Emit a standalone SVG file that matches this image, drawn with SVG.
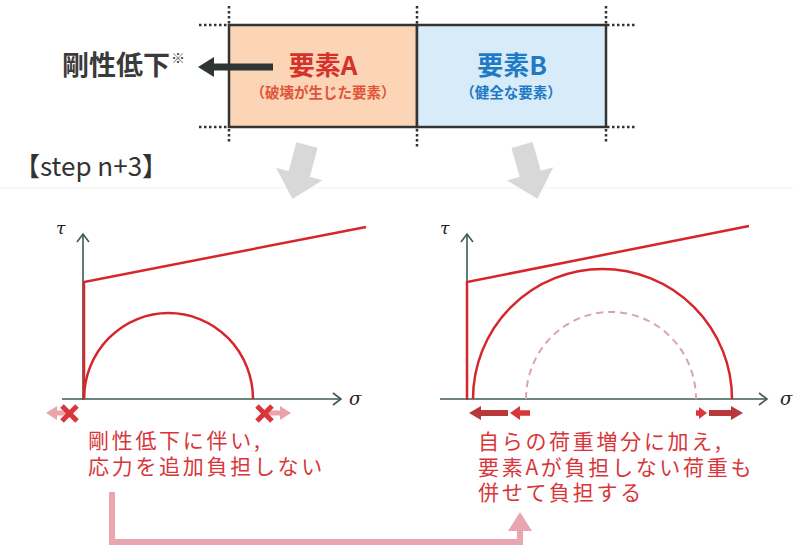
<svg xmlns="http://www.w3.org/2000/svg" width="793" height="548" viewBox="0 0 793 548">
<style>
.jp{font-family:"Noto Sans CJK JP","Noto Sans",sans-serif}
.dot{stroke:#333;stroke-width:2.5;stroke-dasharray:2.5 2.5;fill:none}
.box{stroke:#333;stroke-width:2.5}
.axis{stroke:#3d5a52;stroke-width:1.6;fill:none}
.red{stroke:#d7262b;stroke-width:2.5;fill:none}
.rtext{fill:#d8363a;font-size:21px;letter-spacing:2.7px}
.greek{font-family:"DejaVu Serif","Liberation Serif",serif;font-style:italic;fill:#222}
</style>
<rect width="793" height="548" fill="#fff"/>
<line x1="0" y1="188" x2="793" y2="188" stroke="#f1f1f1" stroke-width="1"/>

<g id="elementA">
<rect class="box" x="229" y="25" width="188" height="102" fill="#fbd5b6"/>
<text class="jp" x="323" y="75" font-size="26" font-weight="bold" fill="#d6322c" text-anchor="middle">要素A</text>
<text class="jp" x="323" y="98" font-size="14.5" font-weight="bold" fill="#e0553a" text-anchor="middle">（破壊が生じた要素）</text>
</g>
<g id="elementB">
<rect class="box" x="417" y="25" width="189" height="102" fill="#d7ebf9"/>
<text class="jp" x="512" y="75" font-size="26" font-weight="bold" fill="#1f7ac6" text-anchor="middle">要素B</text>
<text class="jp" x="511" y="98" font-size="14.5" font-weight="bold" fill="#1f7ac6" text-anchor="middle">（健全な要素）</text>
</g>
<g id="gridlines">
<line class="dot" x1="229" y1="6" x2="229" y2="24"/>
<line class="dot" x1="417" y1="6" x2="417" y2="24"/>
<line class="dot" x1="606" y1="6" x2="606" y2="24"/>
<line class="dot" x1="229" y1="129" x2="229" y2="142"/>
<line class="dot" x1="417" y1="129" x2="417" y2="147"/>
<line class="dot" x1="606" y1="129" x2="606" y2="142"/>
<line class="dot" x1="199" y1="25" x2="228" y2="25"/>
<line class="dot" x1="199" y1="127" x2="228" y2="127"/>
<line class="dot" x1="607" y1="25" x2="637" y2="25"/>
<line class="dot" x1="607" y1="127" x2="637" y2="127"/>
</g>

<g id="stiffness-label">
<text class="jp" x="62" y="75" font-size="27" font-weight="bold" fill="#3a3a3a">剛性低下</text>
<text class="jp" x="171" y="63" font-size="14" fill="#3a3a3a">※</text>
</g>

<g id="step-label">
<text class="jp" x="14" y="176" font-size="26" fill="#333">【step n+3】</text>
</g>

<g id="connectors">
<path d="M273 67 H212" stroke="#2d3535" stroke-width="7" fill="none"/>
<polygon points="198,67 214,57 214,77" fill="#2d3535"/>
<polygon transform="translate(307,145) rotate(15)" points="-11,0 11,0 11,30 24,30 0,56 -24,30 -11,30" fill="#d8d8d8"/>
<polygon transform="translate(522,145) rotate(-16)" points="-11,0 11,0 11,30 24,30 0,56 -24,30 -11,30" fill="#d8d8d8"/>
<path d="M112 492 V542 H520 V530" stroke="#e8a7b0" stroke-width="6" fill="none"/>
<polygon points="520,512 508,531 532,531" fill="#e8a7b0"/>
</g>

<g id="chartA">
<line class="axis" x1="83" y1="400" x2="83" y2="234"/>
<polyline class="axis" points="77,242 83,234 89,242"/>
<line class="axis" x1="62" y1="399" x2="341" y2="399"/>
<polyline class="axis" points="333,393 341,399 333,405"/>
<text class="greek" x="56" y="234" font-size="17">τ</text>
<text class="greek" x="349" y="405" font-size="18">σ</text>
<polyline class="red" points="84,399 84,282 366,227"/>
<path class="red" d="M84 399 A84.5 86 0 0 1 253 399"/>
<path d="M70 413 H56" stroke="#eaa3ab" stroke-width="5"/>
<polygon points="46,413 57,406 57,420" fill="#eaa3ab"/>
<path d="M264 413 H280" stroke="#eaa3ab" stroke-width="5"/>
<polygon points="291,413 280,406 280,420" fill="#eaa3ab"/>
<path d="M62 406 L77 421 M77 406 L62 421" stroke="#d8363a" stroke-width="5"/>
<path d="M257 406 L272 421 M272 406 L257 421" stroke="#d8363a" stroke-width="5"/>
<text class="jp rtext" x="88" y="448">剛性低下に伴い,</text>
<text class="jp rtext" x="88" y="474">応力を追加負担しない</text>
</g>

<g id="chartB">
<line class="axis" x1="467" y1="400" x2="467" y2="234"/>
<polyline class="axis" points="461,242 467,234 473,242"/>
<line class="axis" x1="440" y1="399" x2="767" y2="399"/>
<polyline class="axis" points="759,393 767,399 759,405"/>
<text class="greek" x="440" y="234" font-size="17">τ</text>
<text class="greek" x="780" y="405" font-size="18">σ</text>
<polyline class="red" points="467,399 467,282 749,226"/>
<path class="red" d="M473 399 A129.5 130 0 0 1 732 399"/>
<path d="M526 399 A85 87 0 0 1 696 399" stroke="#dba4ac" stroke-width="2" stroke-dasharray="7 5" fill="none"/>
<path d="M508 413 H479" stroke="#b8383b" stroke-width="6"/>
<polygon points="469,413 481,406 481,420" fill="#b8383b"/>
<path d="M530 413 H518" stroke="#d8363a" stroke-width="5.5"/>
<polygon points="510,413 520,406 520,420" fill="#d8363a"/>
<path d="M696 413 H701" stroke="#d8363a" stroke-width="5.5"/>
<polygon points="707,413 699,407 699,419" fill="#d8363a"/>
<path d="M709 413 H733" stroke="#b8383b" stroke-width="6"/>
<polygon points="743,413 731,406 731,420" fill="#b8383b"/>
<text class="jp rtext" x="478" y="449">自らの荷重増分に加え,</text>
<text class="jp rtext" x="478" y="475">要素Aが負担しない荷重も</text>
<text class="jp rtext" x="478" y="500">併せて負担する</text>
</g>
</svg>
